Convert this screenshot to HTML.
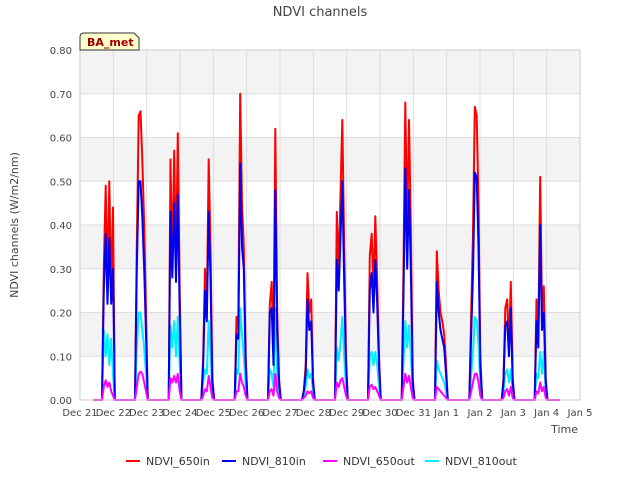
<!DOCTYPE html>
<html><head><meta charset="utf-8"><style>
body{margin:0;background:#fff;font-family:"Liberation Sans","DejaVu Sans",sans-serif}
svg text{font-family:"DejaVu Sans","Liberation Sans",sans-serif}
</style></head><body>
<svg id="c" width="640" height="480" xmlns="http://www.w3.org/2000/svg">
<text x="320" y="16" text-anchor="middle" font-size="13" fill="#444">NDVI channels</text>
<g id="grid"></g><g id="series"></g><g id="axes"></g>
<text x="18" y="225" transform="rotate(-90 18 225)" text-anchor="middle" font-size="11" fill="#444">NDVI channels (W/m2/nm)</text>
<text x="578" y="433" text-anchor="end" font-size="11" fill="#444">Time</text>
<g>
<path d="M80,50 L80,37 Q80,33 84,33 L134,33 L139,38 L139,50 Z" fill="#ffffcc" stroke="#333" stroke-width="1"/>
<text x="87" y="46" font-size="11" font-weight="bold" fill="#a00000">BA_met</text></g>
<g id="legend"></g>
</svg>
<script>
const xTicks=["Dec 21","Dec 22","Dec 23","Dec 24","Dec 25","Dec 26","Dec 27","Dec 28","Dec 29","Dec 30","Dec 31","Jan 1","Jan 2","Jan 3","Jan 4","Jan 5"];
const yTicks=[0,0.1,0.2,0.3,0.4,0.5,0.6,0.7,0.8];
const humpStart=[0.66,1.65,2.66,3.64,4.64,5.64,6.66,7.65,8.64,9.65,10.65,11.68,12.65,13.64];
const in650=[[0,0.30,0.49,0.27,0.50,0.24,0.44,0],[0,0.35,0.65,0.66,0.55,0.40,0.20,0],[0,0.55,0.30,0.57,0.30,0.61,0.25,0],[0,0.10,0.30,0.20,0.55,0.35,0.05,0],[0,0.19,0.18,0.70,0.45,0.35,0.10,0],[0,0.22,0.27,0.10,0.62,0.20,0.05,0],[0,0.02,0.08,0.29,0.20,0.23,0.05,0],[0,0.43,0.30,0.47,0.64,0.35,0.10,0],[0,0.33,0.38,0.25,0.42,0.27,0.10,0],[0,0.30,0.68,0.40,0.64,0.40,0.05,0],[0,0.34,0.25,0.20,0.18,0.15,0.08,0],[0,0.20,0.38,0.67,0.65,0.45,0.10,0],[0,0.05,0.21,0.23,0.12,0.27,0.05,0],[0,0.23,0.15,0.51,0.20,0.26,0.05,0]];
const in810=[[0,0.25,0.38,0.22,0.37,0.22,0.30,0],[0,0.30,0.50,0.50,0.42,0.30,0.15,0],[0,0.43,0.28,0.45,0.27,0.47,0.20,0],[0,0.08,0.25,0.18,0.43,0.28,0.04,0],[0,0.15,0.14,0.54,0.35,0.30,0.08,0],[0,0.20,0.21,0.08,0.48,0.16,0.04,0],[0,0.02,0.06,0.23,0.16,0.18,0.04,0],[0,0.32,0.25,0.37,0.50,0.27,0.08,0],[0,0.25,0.29,0.20,0.32,0.22,0.08,0],[0,0.24,0.53,0.30,0.48,0.30,0.04,0],[0,0.27,0.20,0.16,0.14,0.12,0.06,0],[0,0.15,0.29,0.52,0.51,0.35,0.08,0],[0,0.04,0.17,0.18,0.10,0.21,0.04,0],[0,0.18,0.12,0.40,0.16,0.20,0.04,0]];
const out650=[[0,0.03,0.045,0.03,0.04,0.02,0.01,0],[0,0.03,0.06,0.065,0.06,0.04,0.02,0],[0,0.05,0.04,0.055,0.04,0.06,0.02,0],[0,0.01,0.025,0.02,0.055,0.03,0.005,0],[0,0.02,0.02,0.06,0.04,0.03,0.01,0],[0,0.02,0.025,0.01,0.06,0.02,0.005,0],[0,0.005,0.01,0.02,0.015,0.02,0.005,0],[0,0.04,0.03,0.045,0.05,0.03,0.01,0],[0,0.03,0.035,0.025,0.03,0.02,0.01,0],[0,0.03,0.06,0.04,0.055,0.03,0.005,0],[0,0.03,0.025,0.02,0.015,0.01,0.005,0],[0,0.02,0.04,0.06,0.06,0.04,0.01,0],[0,0.005,0.02,0.025,0.01,0.03,0.005,0],[0,0.02,0.015,0.04,0.02,0.03,0.005,0]];
const out810=[[0,0.16,0.10,0.15,0.08,0.14,0.06,0],[0,0.12,0.20,0.20,0.16,0.12,0.06,0],[0,0.17,0.12,0.18,0.10,0.19,0.08,0],[0,0.04,0.07,0.06,0.18,0.10,0.02,0],[0,0.07,0.06,0.21,0.15,0.10,0.03,0],[0,0.07,0.06,0.03,0.21,0.06,0.02,0],[0,0.01,0.03,0.07,0.05,0.06,0.02,0],[0,0.12,0.09,0.13,0.19,0.10,0.03,0],[0,0.10,0.11,0.08,0.11,0.08,0.03,0],[0,0.09,0.18,0.12,0.17,0.11,0.02,0],[0,0.09,0.07,0.06,0.05,0.04,0.02,0],[0,0.06,0.11,0.19,0.18,0.13,0.03,0],[0,0.02,0.06,0.07,0.04,0.07,0.02,0],[0,0.06,0.05,0.11,0.06,0.11,0.02,0]];
const seriesNames=["NDVI_650in","NDVI_810in","NDVI_650out","NDVI_810out"];
const seriesColors=["#ff0000","#0000ee","#ff00ff","#00eeff"];
const X0=80,X1=580,Y0=400,Y1=50;
const xs=d=>X0+d*(X1-X0)/15, ys=v=>Y0-v*(Y0-Y1)/0.8;
const NS="http://www.w3.org/2000/svg";
function mk(t,a,p){const e=document.createElementNS(NS,t);for(const k in a)e.setAttribute(k,a[k]);p.appendChild(e);return e;}
const grid=document.getElementById('grid'),axes=document.getElementById('axes'),ser=document.getElementById('series'),leg=document.getElementById('legend');
for(let i=0;i<8;i++){const b=mk('rect',{x:X0,y:ys(yTicks[i+1]),width:X1-X0,height:ys(yTicks[i])-ys(yTicks[i+1]),fill:i%2?'#f3f3f3':'#ffffff'},grid);

}
yTicks.forEach(v=>{const l=mk('line',{x1:X0,x2:X1,y1:ys(v),y2:ys(v),stroke:'#dddddd'},grid);


const t=mk('text',{x:X0-8,y:ys(v)+4,'text-anchor':'end','font-size':10,fill:'#444'},axes);t.textContent=v.toFixed(2);

});
xTicks.forEach((s,i)=>{const l=mk('line',{x1:xs(i),x2:xs(i),y1:Y1,y2:Y0,stroke:'#dddddd'},grid);


const t=mk('text',{x:xs(i),y:Y0+16,'text-anchor':'middle','font-size':10,fill:'#444'},axes);t.textContent=s;

});
mk('rect',{x:X0,y:Y1,width:X1-X0,height:Y0-Y1,fill:'none',stroke:'#cccccc'},axes);
const all=[in650,in810,out650,out810];
[0,3,1,2].forEach(si=>{let pts=[[xs(0.4),ys(0)]];
humpStart.forEach((s,h)=>{all[si][h].forEach((v,k)=>pts.push([xs(s+k*0.055),ys(v)]));});
pts.push([xs(14.4),ys(0)]);
const p=mk('polyline',{points:pts.map(p=>p[0].toFixed(1)+','+p[1].toFixed(1)).join(' '),fill:'none',stroke:seriesColors[si],'stroke-width':2,'stroke-linejoin':'round'},ser);

});
const lx=[126,222,323,425];
seriesNames.forEach((n,i)=>{const g=mk('g',{},leg);


mk('line',{x1:lx[i],x2:lx[i]+14,y1:461,y2:461,stroke:seriesColors[i],'stroke-width':2},g);
const t=mk('text',{x:lx[i]+20,y:465,'font-size':11,fill:'#333'},g);t.textContent=n;});
</script>
</body></html>
